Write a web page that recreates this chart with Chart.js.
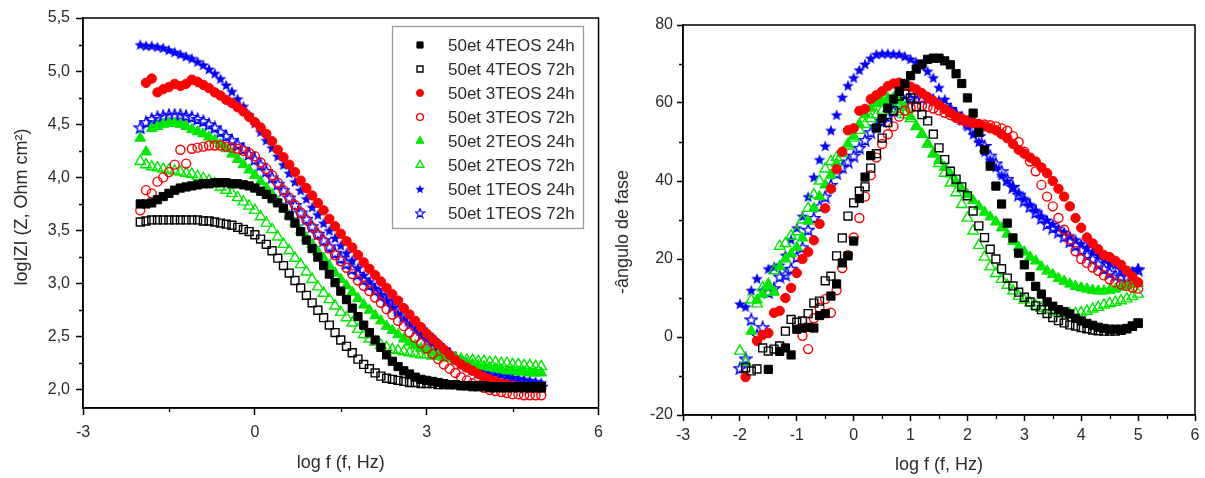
<!DOCTYPE html>
<html><head><meta charset="utf-8">
<script src="https://cdn.jsdelivr.net/npm/chart.js@4.4.1/dist/chart.umd.min.js"></script>
<style>
html,body{margin:0;padding:0;background:#fff;width:1205px;height:478px;overflow:hidden;}
#w1{position:absolute;left:0;top:0;width:611px;height:478px;}
#w2{position:absolute;left:600px;top:0;width:605px;height:478px;}
</style></head><body>
<div id="w1"><canvas id="c1"></canvas></div>
<div id="w2"><canvas id="c2"></canvas></div>
<script>
// ---------- DATA ----------
const logF = [-2.0,-1.9,-1.8,-1.7,-1.6,-1.5,-1.4,-1.3,-1.2,-1.1,
  -1.0,-0.9,-0.8,-0.7,-0.6,-0.5,-0.4,-0.3,-0.2,-0.1,
  0.0,0.1,0.2,0.3,0.4,0.5,0.6,0.7,0.8,0.9,
  1.0,1.1,1.2,1.3,1.4,1.5,1.6,1.7,1.8,1.9,
  2.0,2.1,2.2,2.3,2.4,2.5,2.6,2.7,2.8,2.9,
  3.0,3.1,3.2,3.3,3.4,3.5,3.6,3.7,3.8,3.9,
  4.0,4.1,4.2,4.3,4.4,4.5,4.6,4.7,4.8,4.9,
  5.0];

const seriesLabels = ['50et 4TEOS 24h','50et 4TEOS 72h','50et 3TEOS 24h','50et 3TEOS 72h',
  '50et 2TEOS 24h','50et 2TEOS 72h','50et 1TEOS 24h','50et 1TEOS 72h'];

// log|Z| values
const zBlackFilled = [3.75,3.75,3.76,3.79,3.82,3.85,3.88,3.90,3.91,3.92,
  3.93,3.94,3.94,3.95,3.95,3.95,3.94,3.94,3.93,3.92,
  3.90,3.87,3.84,3.80,3.76,3.71,3.64,3.57,3.49,3.41,
  3.33,3.25,3.17,3.09,3.01,2.93,2.85,2.77,2.69,2.61,
  2.54,2.47,2.40,2.33,2.27,2.22,2.18,2.15,2.12,2.10,
  2.09,2.08,2.07,2.06,2.05,2.05,2.04,2.04,2.03,2.03,
  2.03,2.02,2.02,2.02,2.02,2.02,2.02,2.02,2.02,2.02,
  2.02];
const zBlackOpen = [3.58,3.59,3.60,3.60,3.60,3.60,3.60,3.60,3.60,3.60,
  3.60,3.59,3.59,3.58,3.57,3.56,3.55,3.53,3.51,3.49,
  3.46,3.42,3.37,3.31,3.24,3.17,3.10,3.03,2.96,2.89,
  2.82,2.75,2.68,2.61,2.54,2.47,2.41,2.35,2.29,2.24,
  2.20,2.16,2.13,2.11,2.10,2.09,2.08,2.07,2.07,2.06,
  2.06,2.06,2.05,2.05,2.05,2.05,2.04,2.04,2.04,2.04,
  2.04,2.03,2.03,2.03,2.03,2.03,2.03,2.03,2.03,2.03,
  2.03];
const zRedFilled = [null,4.89,4.93,4.80,4.83,4.85,4.88,4.86,4.88,4.92,
  4.90,4.87,4.84,4.80,4.77,4.73,4.70,4.66,4.62,4.57,
  4.52,4.47,4.41,4.34,4.26,4.19,4.12,4.05,3.97,3.90,
  3.83,3.76,3.69,3.61,3.54,3.47,3.40,3.34,3.27,3.20,
  3.14,3.08,3.02,2.96,2.90,2.84,2.77,2.71,2.65,2.59,
  2.53,2.48,2.43,2.38,2.33,2.28,2.24,2.21,2.18,2.15,
  2.12,2.10,2.08,2.06,2.05,2.04,2.03,2.03,2.02,2.02,
  2.02];
const zRedOpen = [3.69,3.88,3.85,3.96,4.00,4.05,4.12,4.26,4.13,4.27,
  4.28,4.29,4.30,4.30,4.30,4.29,4.28,4.27,4.25,4.23,
  4.20,4.14,4.08,4.02,3.95,3.88,3.81,3.74,3.67,3.60,
  3.53,3.46,3.40,3.33,3.27,3.21,3.15,3.09,3.03,2.98,
  2.93,2.87,2.82,2.76,2.71,2.65,2.60,2.54,2.49,2.44,
  2.39,2.34,2.29,2.24,2.20,2.16,2.12,2.09,2.06,2.04,
  2.02,2.00,1.99,1.98,1.97,1.96,1.96,1.95,1.95,1.95,
  1.95];
const zGreenFilled = [4.37,4.24,4.46,4.48,4.50,4.51,4.51,4.50,4.48,4.45,
  4.43,4.41,4.38,4.35,4.31,4.27,4.22,4.17,4.12,4.07,
  4.02,3.96,3.90,3.84,3.77,3.71,3.64,3.57,3.50,3.43,
  3.37,3.30,3.24,3.17,3.10,3.04,2.98,2.92,2.86,2.80,
  2.75,2.70,2.65,2.60,2.56,2.52,2.48,2.45,2.42,2.39,
  2.37,2.35,2.33,2.31,2.30,2.28,2.27,2.25,2.24,2.23,
  2.22,2.21,2.20,2.19,2.18,2.18,2.17,2.17,2.16,2.16,
  2.16];
const zGreenOpen = [4.15,4.12,4.10,4.09,4.08,4.07,4.06,4.05,4.04,4.03,
  4.01,3.99,3.97,3.94,3.91,3.88,3.85,3.81,3.77,3.73,
  3.69,3.63,3.57,3.51,3.44,3.37,3.31,3.24,3.18,3.11,
  3.04,2.97,2.91,2.85,2.79,2.73,2.68,2.63,2.57,2.52,
  2.48,2.45,2.42,2.40,2.38,2.37,2.36,2.35,2.34,2.33,
  2.33,2.32,2.32,2.31,2.30,2.30,2.29,2.28,2.28,2.27,
  2.27,2.26,2.26,2.25,2.25,2.24,2.24,2.23,2.23,2.22,
  2.22];
const zBlueFilled = [5.25,5.24,5.24,5.23,5.22,5.20,5.18,5.16,5.14,5.12,
  5.09,5.06,5.02,4.98,4.93,4.87,4.81,4.74,4.67,4.59,
  4.51,4.43,4.35,4.28,4.20,4.12,4.04,3.96,3.88,3.80,
  3.72,3.65,3.57,3.50,3.43,3.36,3.29,3.22,3.15,3.08,
  3.02,2.96,2.90,2.84,2.78,2.72,2.67,2.62,2.57,2.52,
  2.48,2.44,2.40,2.37,2.34,2.31,2.28,2.26,2.24,2.22,
  2.20,2.18,2.17,2.15,2.14,2.12,2.11,2.10,2.09,2.08,
  2.07];
const zBlueOpen = [4.47,4.52,4.55,4.57,4.58,4.59,4.59,4.59,4.58,4.57,
  4.55,4.53,4.50,4.47,4.43,4.39,4.35,4.31,4.27,4.22,
  4.17,4.12,4.06,4.00,3.94,3.88,3.81,3.74,3.67,3.61,
  3.54,3.47,3.41,3.35,3.29,3.24,3.19,3.14,3.09,3.04,
  2.99,2.94,2.89,2.84,2.79,2.75,2.70,2.66,2.62,2.57,
  2.52,2.47,2.42,2.38,2.34,2.30,2.26,2.23,2.20,2.17,
  2.15,2.13,2.11,2.10,2.08,2.07,2.06,2.05,2.04,2.04,
  2.03];

// -phase angle values (degrees)
const pBlackFilled = [null,null,null,null,null,-8.3,null,-3.7,-2.8,-4.6,
  2.0,2.3,2.5,2.3,5.5,6.0,10.5,13.6,19.0,20.8,
  24.6,35.5,41.0,46.5,53.6,56.0,58.7,61.0,63.0,65.0,
  67.0,68.7,70.0,71.2,71.5,71.5,70.8,69.8,67.5,65.0,
  61.3,57.4,52.5,48.0,43.8,38.7,34.1,29.2,25.4,21.5,
  18.5,15.5,13.0,11.0,9.0,7.9,7.0,6.5,5.9,4.8,
  4.1,3.5,3.0,2.5,2.2,2.0,2.0,2.0,2.2,2.8,
  3.5];
const pBlackOpen = [null,-7.9,-8.7,-8.2,-2.8,-3.6,-3.1,-2.3,1.5,4.5,
  3.8,4.1,6.0,8.7,9.2,14.4,15.6,20.8,25.4,31.0,
  34.4,37.4,38.5,43.3,47.0,51.0,55.0,58.0,61.8,62.3,
  61.3,59.0,57.0,55.4,52.0,48.5,45.5,42.5,40.5,38.5,
  36.2,32.3,28.5,25.5,22.5,20.0,17.5,15.1,13.1,11.5,
  10.2,9.0,8.0,7.0,6.0,5.0,4.2,3.6,3.1,2.8,
  2.4,2.1,1.8,1.6,1.5,1.5,1.5,1.7,2.1,2.8,
  3.6];
const pRedFilled = [null,-10.3,null,-1.0,0.5,1.0,6.2,6.7,10.0,12.6,
  16.4,20.0,21.8,24.8,29.0,33.0,38.0,43.0,47.5,53.0,
  53.5,58.0,58.5,61.0,62.0,63.0,64.3,65.0,65.2,64.8,
  64.2,63.5,62.5,61.5,60.5,59.5,58.5,57.5,56.5,56.0,
  55.5,55.0,54.5,54.0,53.5,53.0,52.0,51.0,49.5,48.0,
  47.0,46.0,45.0,43.5,42.0,40.0,38.0,36.0,33.5,30.5,
  28.0,25.5,24.0,22.5,21.0,20.5,19.5,18.5,17.0,15.5,
  14.0];
const pRedOpen = [null,null,null,null,null,null,null,null,null,null,
  null,0.3,-3.1,4.8,7.5,9.7,6.2,12.0,17.7,21.0,
  25.5,30.5,36.0,41.5,46.0,49.5,52.0,54.0,56.5,58.0,
  58.7,59.2,59.3,59.0,58.6,58.1,57.5,56.9,56.2,55.6,
  55.1,54.8,54.6,54.5,54.3,54.0,53.5,52.9,51.5,50.0,
  47.5,45.0,42.5,39.0,36.0,33.5,30.5,27.5,25.0,22.0,
  20.0,19.0,17.8,17.0,15.8,14.8,14.0,13.5,13.1,12.7,
  12.4];
const pGreenFilled = [null,null,1.5,9.5,11.0,13.0,11.5,18.0,20.0,21.3,
  23.0,25.4,29.7,33.0,36.0,39.0,41.5,44.5,47.0,49.5,
  51.5,54.6,57.0,58.7,59.8,60.5,61.2,61.3,60.5,59.0,
  56.5,54.0,52.0,49.5,47.0,45.3,43.5,41.8,39.8,38.0,
  36.5,35.0,33.5,32.0,30.8,29.5,28.0,26.4,24.5,23.0,
  21.8,20.5,19.5,18.0,16.9,16.0,15.0,14.3,13.6,13.0,
  12.6,12.3,12.0,11.8,11.8,12.0,12.3,12.7,13.1,13.5,
  13.8];
const pGreenOpen = [-3.6,-6.5,9.5,8.5,12.6,13.5,17.0,23.3,24.0,25.9,
  27.0,30.0,33.0,36.5,40.0,43.1,45.0,46.0,47.2,49.0,
  51.0,53.0,54.5,56.0,57.0,58.0,58.5,58.5,57.8,57.0,
  56.0,54.0,52.0,49.5,47.0,44.5,42.0,39.5,37.0,34.0,
  30.5,27.2,23.5,20.5,18.0,16.3,14.8,13.3,11.8,10.5,
  9.5,8.7,8.0,7.4,7.0,6.7,6.3,6.0,5.9,6.0,
  6.2,6.6,7.2,7.6,8.2,8.6,8.9,9.3,9.8,10.4,
  11.0];
const pBlueFilled = [8.5,7.8,12.0,15.0,12.0,17.5,18.0,18.5,21.0,25.0,
  28.0,31.0,36.0,41.0,45.5,49.0,53.0,57.0,61.5,64.5,
  66.5,68.5,70.0,71.5,72.5,72.7,72.7,72.6,72.5,72.0,
  71.3,70.5,69.5,68.2,66.5,64.0,61.0,58.5,57.0,55.5,
  54.0,52.0,50.0,47.5,45.5,43.5,41.5,40.0,38.5,37.0,
  35.5,34.0,32.5,31.0,30.0,29.0,28.0,27.0,26.0,25.0,
  24.0,23.0,22.0,21.0,20.0,19.0,18.5,17.5,17.0,16.8,
  17.5];
const pBlueOpen = [-8.0,-5.5,4.5,0.5,2.5,11.5,12.5,15.5,16.0,17.5,
  20.5,23.0,27.5,30.5,33.5,36.0,39.0,42.0,43.5,45.0,
  46.5,48.5,50.5,52.5,54.0,55.5,56.5,58.0,59.5,60.5,
  61.0,61.3,61.3,61.2,60.8,60.2,59.5,58.5,57.3,56.2,
  55.0,53.5,51.5,49.0,46.5,44.5,42.5,40.5,38.5,36.5,
  35.0,33.5,32.0,30.5,29.0,28.0,27.0,25.8,24.5,23.5,
  22.3,21.0,20.0,18.8,17.5,16.5,15.8,15.5,15.5,16.3,
  17.3];

// tick labels
const zTicksX = [-3, 0, 3, 6];
const zTicksY = [2.0, 2.5, 3.0, 3.5, 4.0, 4.5, 5.0, 5.5];
const pTicksX = [-3, -2, -1, 0, 1, 2, 3, 4, 5, 6];
const pTicksY = [-20, 0, 20, 40, 60, 80];

// ---------- STYLE ----------
const FONT = "'Liberation Sans', Arial, Helvetica, sans-serif";
const TXT = '#2b2b2b';
const RED = '#ff0000', GREEN = '#00e800', BLUE = '#0000ff', BLACK = '#000000';

function starCanvas(size, filled, color) {
  const c = document.createElement('canvas');
  c.width = size; c.height = size;
  const g = c.getContext('2d');
  const cx = size / 2, cy = size / 2 + 0.6, R = size / 2 - 0.8, r = R * 0.42;
  g.beginPath();
  for (let k = 0; k < 10; k++) {
    const a = -Math.PI / 2 + k * Math.PI / 5;
    const rr = (k % 2) ? r : R;
    g.lineTo(cx + rr * Math.cos(a), cy + rr * Math.sin(a));
  }
  g.closePath();
  if (filled) { g.fillStyle = color; g.fill(); }
  else { g.strokeStyle = color; g.lineWidth = 1.4; g.stroke(); }
  return c;
}
const starFilled = starCanvas(14, true, BLUE);
const starOpen = starCanvas(14, false, BLUE);

const markers = [
  {style: 'rect', r: 5.8, color: BLACK, fill: BLACK, bw: 1},
  {style: 'rect', r: 5.6, color: BLACK, fill: 'rgba(0,0,0,0)', bw: 1.4},
  {style: 'circle', r: 4.7, color: RED, fill: RED, bw: 1},
  {style: 'circle', r: 4.5, color: RED, fill: 'rgba(0,0,0,0)', bw: 1.4},
  {style: 'triangle', r: 6.2, color: GREEN, fill: GREEN, bw: 1},
  {style: 'triangle', r: 6.1, color: GREEN, fill: 'rgba(0,0,0,0)', bw: 1.4},
  {style: starFilled, r: 6.5, color: BLUE, fill: BLUE, bw: 1},
  {style: starOpen, r: 6.5, color: BLUE, fill: 'rgba(0,0,0,0)', bw: 1.3}
];

function mkDataset(i, values) {
  const m = markers[i];
  return {
    label: seriesLabels[i],
    data: logF.map((x, k) => ({x: x, y: values[k]})).filter(p => p.y !== null),
    showLine: false,
    pointStyle: m.style,
    pointRadius: m.r,
    pointHoverRadius: m.r,
    pointBorderWidth: m.bw,
    borderWidth: m.bw,
    backgroundColor: m.fill,
    pointBackgroundColor: m.fill,
    borderColor: m.color,
    pointBorderColor: m.color
  };
}

// frame + minor ticks + y title
const framePlugin = {
  id: 'frame',
  afterDraw(chart, args, o) {
    const {ctx, chartArea: a, scales: {x, y}} = chart;
    ctx.save();
    ctx.strokeStyle = '#000';
    ctx.lineWidth = 1.5;
    ctx.strokeRect(a.left, a.top, a.right - a.left, a.bottom - a.top);
    ctx.lineWidth = 1.3;
    ctx.beginPath();
    const xv = x.ticks.map(t => t.value);
    for (let k = 0; k < xv.length - 1; k++) {
      const px = Math.round(x.getPixelForValue((xv[k] + xv[k + 1]) / 2)) + 0.5;
      ctx.moveTo(px, a.bottom); ctx.lineTo(px, a.bottom + o.minorLen);
    }
    const yv = y.ticks.map(t => t.value);
    const step = yv[1] - yv[0];
    const mids = [];
    for (let k = 0; k < yv.length - 1; k++) mids.push((yv[k] + yv[k + 1]) / 2);
    if (yv[0] - step / 2 >= y.min) mids.push(yv[0] - step / 2);
    mids.forEach(v => {
      const py = Math.round(y.getPixelForValue(v)) + 0.5;
      ctx.moveTo(a.left, py); ctx.lineTo(a.left - o.minorLen, py);
    });
    ctx.stroke();
    if (o.yTitle) {
      ctx.save();
      ctx.translate(o.yTitle.x, o.yTitle.y);
      ctx.rotate(-Math.PI / 2);
      ctx.font = '18px ' + FONT;
      ctx.fillStyle = TXT;
      ctx.textAlign = 'center';
      ctx.textBaseline = 'middle';
      ctx.fillText(o.yTitle.text, 0, 0);
      ctx.restore();
    }
    ctx.restore();
  }
};

const legendPlugin = {
  id: 'boxLegend',
  afterDraw(chart, args, o) {
    if (!o.show) return;
    const {ctx} = chart;
    ctx.save();
    ctx.strokeStyle = '#9a9a9a';
    ctx.lineWidth = 1.3;
    ctx.strokeRect(o.x + 0.5, o.y + 0.5, o.w, o.h);
    ctx.font = '17px ' + FONT;
    ctx.fillStyle = TXT;
    ctx.textBaseline = 'middle';
    chart.data.datasets.forEach((ds, i) => {
      const cy = o.firstY + i * o.rowH;
      const m = markers[i];
      if (typeof m.style === 'object') {
        const s = 11;
        ctx.drawImage(m.style, o.markerX - s / 2, cy - s / 2, s, s);
      } else {
        ctx.save();
        ctx.fillStyle = m.fill;
        ctx.strokeStyle = m.color;
        ctx.lineWidth = m.bw;
        Chart.helpers.drawPoint(ctx, {pointStyle: m.style, radius: m.r * 0.75, borderWidth: m.bw, rotation: 0}, o.markerX, cy);
        ctx.restore();
      }
      ctx.fillStyle = TXT;
      ctx.fillText(ds.label, o.textX, cy + 1);
    });
    ctx.restore();
  }
};

function axisX(ticksArr, h, tickLen, pad, titlePad) {
  return {
    type: 'linear', min: -3, max: 6,
    afterBuildTicks: s => { s.ticks = ticksArr.map(v => ({value: v})); },
    afterFit: s => { s.height = h; },
    grid: {display: true, drawOnChartArea: false, drawTicks: true, tickLength: tickLen, tickColor: '#000', tickWidth: 1.5},
    border: {display: true, color: '#000', width: 1.5},
    ticks: {font: {family: FONT, size: 16}, color: TXT, padding: pad, maxRotation: 0, autoSkip: false,
      callback: v => String(v)},
    title: {display: true, text: 'log f (f, Hz)', font: {family: FONT, size: 18}, color: TXT,
      padding: {top: 0, bottom: titlePad}}
  };
}
function axisY(ticksArr, min, max, w, tickLen, pad, fmt) {
  return {
    type: 'linear', min: min, max: max,
    afterBuildTicks: s => { s.ticks = ticksArr.map(v => ({value: v})); },
    afterFit: s => { s.width = w; },
    grid: {display: true, drawOnChartArea: false, drawTicks: true, tickLength: tickLen, tickColor: '#000', tickWidth: 1.5},
    border: {display: true, color: '#000', width: 1.5},
    ticks: {font: {family: FONT, size: 16}, color: TXT, padding: pad, autoSkip: false, callback: fmt}
  };
}

const zSeries = [zBlackFilled, zBlackOpen, zRedFilled, zRedOpen, zGreenFilled, zGreenOpen, zBlueFilled, zBlueOpen];
const pSeries = [pBlackFilled, pBlackOpen, pRedFilled, pRedOpen, pGreenFilled, pGreenOpen, pBlueFilled, pBlueOpen];

new Chart(document.getElementById('c1'), {
  type: 'scatter',
  data: {datasets: zSeries.map((v, i) => mkDataset(i, v))},
  options: {
    responsive: true, maintainAspectRatio: false, animation: false, devicePixelRatio: 1,
    layout: {padding: {top: 18, right: 0, bottom: 0, left: 0}},
    scales: {
      x: axisX(zTicksX, 70, 7, 8, 4),
      y: axisY(zTicksY, 1.83, 5.5, 83, 7, 6, v => Number(v).toFixed(1).replace('.', ','))
    },
    plugins: {
      legend: {display: false}, tooltip: {enabled: false},
      frame: {minorLen: 4, yTitle: {text: 'logIZI (Z, Ohm cm\u00B2)', x: 22, y: 207}},
      boxLegend: {show: true, x: 392, y: 26, w: 191, h: 202, markerX: 420, textX: 448, firstY: 45, rowH: 24}
    }
  },
  plugins: [framePlugin, legendPlugin]
});

new Chart(document.getElementById('c2'), {
  type: 'scatter',
  data: {datasets: pSeries.map((v, i) => mkDataset(i, v))},
  options: {
    responsive: true, maintainAspectRatio: false, animation: false, devicePixelRatio: 1,
    layout: {padding: {top: 25, right: 10, bottom: 0, left: 0}},
    scales: {
      x: axisX(pTicksX, 63, 6, 5, 2),
      y: axisY(pTicksY, -20, 80, 83, 6, 4, v => String(v))
    },
    plugins: {
      legend: {display: false}, tooltip: {enabled: false},
      frame: {minorLen: 4, yTitle: {text: '-\u00E2ngulo de fase', x: 23, y: 232}},
      boxLegend: {show: false}
    }
  },
  plugins: [framePlugin, legendPlugin]
});
</script>
</body></html>
